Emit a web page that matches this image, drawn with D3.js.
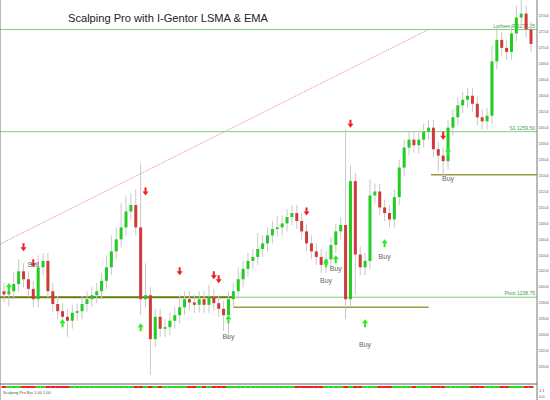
<!DOCTYPE html>
<html><head><meta charset="utf-8">
<script src="https://cdn.jsdelivr.net/npm/d3@7"></script>
<style>body{margin:0;background:#fff}</style>
</head><body><div id="chart"></div>
<script>
// closing prices, one per bar
const closes = [1239.1,1239.5,1240.4,1242,1241, 1239.8,1238.5,1242.5,1243.3,1239.5,
  1237.9,1237,1236.3,1235.8,1236.8, 1237,1237.9,1238.5,1239,1239.5,
  1240.8,1242.5,1244.5,1246,1247.5, 1249.5,1250.3,1247.5,1238.5,1239,
  1233.5,1236.3,1234.8,1235,1235.8, 1236.5,1237.5,1238.5,1238.1,1237.8,
  1238.5,1237.8,1238.8,1238,1237.3, 1236.5,1238.5,1239.5,1241,1242.3,
  1243.3,1243.8,1244.8,1245.5,1246.5, 1247.3,1247.5,1248,1248.8,1249.3,
  1248.3,1247,1245.5,1244.5,1243.8, 1242.8,1243.5,1245.3,1247,1247.8,
  1238.5,1253.3,1244.1,1242.5,1243.3, 1251.5,1252,1250,1249.3,1248.5,
  1251.3,1255,1257.5,1258.5,1257.8, 1258.5,1259.5,1260,1257.3,1256.5,
  1255.8,1260,1261.3,1262.8,1263.5, 1264,1263,1261.3,1260.8,1261.5,
  1268.3,1271,1270,1269.5,1271.8, 1273.8,1274.3,1272.3,1270.5];
const firstOpen = 1239.5;
// wick extensions beyond the body (price units)
const hiExt = [1,1,1.5,1.5,1, 1,1,1.5,1,1, 1,1,1,1,1, 1,1,1,1,1,
  1,1.5,2,1.5,3, 2,1.5,2,8,4, 1,1,1,1,1, 1,1.5,1,1,1,
  1,1,1.5,1,1, 1,1,1,1.5,1, 1,1,2,1,1, 1,1.5,1,1,1,
  1,1,1,1,1, 1,1,1,1,1, 12,2,1,1,1, 2,1,1,1,1,
  1,1,1,1,1, 1,1,1,1,1, 1,1,1,1,1, 1,1,1,1,1,
  2,1.5,1,1,1, 1.5,2,1,1];
const loExt = [1,1.5,1,1,1, 1,1,1,1,1, 1,1,1,2,1, 1,1,1,1,1,
  1,1,1,1,1, 1,1,1,2,1, 4.5,1,1,1,1, 1,1,1,1,1,
  1,1,1,1,1, 2,3,1,1,1, 1,1,1,1,1, 1,1,1,1,1,
  1,1,1,1,1, 1,1,1,1,1, 2.5,1,5,1,1, 1,1,1,1,1,
  1,1,1,1,1, 1,1,1,1,2, 2,1,1,1,1, 1,1,1,1,1,
  1,1,1,1,1, 1,1,1,1];
// signal arrows: bar index, price
const sellIdx = [4,6,29,36,43,44,62,71,90];
const sellPx = [1245.5,1243.5,1252.5,1242.5,1242,1241.5,1250,1261,1259.5];
const buyIdx = [1,12,28,46,66,68,74,78,91];
const buyPx = [1239.5,1235,1234.5,1235.5,1242.5,1243,1235,1245,1256.5];
const buyLabels = [[46,1233.5],[66,1240.5],[68,1242],[74,1232.5],[78,1243.5],[91,1253.3]];
const sellLabels = [[6,1242.5]];
const levels = [{p:1272.3,t:"Lorbeer R 1272.25"},{p:1259.5,t:"S1 1259.50"},{p:1238.75,t:"Pivot 1238.75"}];

const W = 550, H = 400, right = 537, plotBottom = 383;
const svg = d3.select("#chart").append("svg").attr("width", W).attr("height", H)
  .style("font-family", "'Liberation Sans',Arial,sans-serif");

const x = d3.scaleLinear().domain([0, 108]).range([4, 531]);
const y = d3.scaleLinear().domain([1228, 1276]).range([plotBottom, 0]);

const bars = closes.map((c, i) => {
  const o = i === 0 ? firstOpen : closes[i - 1];
  return {i, o, c, h: Math.max(o, c) + hiExt[i], l: Math.min(o, c) - loExt[i]};
});

// diagonal dotted trend line
svg.append("line").attr("x1", 0).attr("y1", y(1245.4)).attr("x2", x(87)).attr("y2", y(1272.3))
  .attr("stroke", "#f08080").attr("stroke-dasharray", "1,1");

// level lines
levels.forEach(d => {
  svg.append("line").attr("x1", 0).attr("x2", right).attr("y1", y(d.p)).attr("y2", y(d.p))
    .attr("stroke", "#7fcf7f").attr("stroke-width", 1);
  svg.append("text").attr("x", right - 2).attr("y", y(d.p) - 2).attr("text-anchor", "end")
    .attr("font-size", 5).attr("fill", "#4a9a4a").text(d.t);
});

// olive support lines
svg.append("line").attr("x1", 0).attr("x2", x(47)).attr("y1", y(1238.75)).attr("y2", y(1238.75))
  .attr("stroke", "#6b7d10").attr("stroke-width", 2);
svg.append("line").attr("x1", x(47)).attr("x2", x(87)).attr("y1", y(1237.5)).attr("y2", y(1237.5))
  .attr("stroke", "#9a9a40").attr("stroke-width", 1.5);
svg.append("line").attr("x1", x(87.5)).attr("x2", right).attr("y1", y(1254.1)).attr("y2", y(1254.1))
  .attr("stroke", "#9a9a40").attr("stroke-width", 1.5);

// candles
const g = svg.append("g");
g.selectAll(".wick").data(bars).enter().append("line")
  .attr("x1", d => x(d.i)).attr("x2", d => x(d.i))
  .attr("y1", d => y(d.h)).attr("y2", d => y(d.l))
  .attr("stroke", "#c8c8c8").attr("stroke-width", 1);
g.selectAll(".body").data(bars).enter().append("rect")
  .attr("x", d => x(d.i) - 1.5).attr("width", 3)
  .attr("y", d => y(Math.max(d.o, d.c)))
  .attr("height", d => Math.max(1, Math.abs(y(d.o) - y(d.c))))
  .attr("fill", d => d.c >= d.o ? "#22cc22" : "#d23a3a");

// arrows
function arrow(xp, yp, up, col) {
  const s = up ? 1 : -1;
  svg.append("path")
    .attr("d", `M${xp},${yp} l-3,${4 * s} h2 v${4 * s} h2 v${-4 * s} h2 z`)
    .attr("fill", col);
}
sellIdx.forEach((b, k) => arrow(x(b), y(sellPx[k]) + 8, false, "#ee2222"));
buyIdx.forEach((b, k) => arrow(x(b), y(buyPx[k]) - 8, true, "#22ee22"));
buyLabels.forEach(d => svg.append("text").attr("x", x(d[0])).attr("y", y(d[1]))
  .attr("text-anchor", "middle").attr("font-size", 7).attr("fill", "#666").text("Buy"));
sellLabels.forEach(d => svg.append("text").attr("x", x(d[0])).attr("y", y(d[1]))
  .attr("text-anchor", "middle").attr("font-size", 7).attr("fill", "#666").text("Sell"));

// title
svg.append("text").attr("x", 68).attr("y", 22).attr("font-size", 11).attr("fill", "#222")
  .attr("textLength", 200).attr("lengthAdjust", "spacingAndGlyphs")
  .text("Scalping Pro with I-Gentor LSMA & EMA");

// price axis
svg.append("line").attr("x1", right).attr("x2", right).attr("y1", 0).attr("y2", H).attr("stroke", "#777");
svg.append("line").attr("x1", 0).attr("x2", 0).attr("y1", 0).attr("y2", H).attr("stroke", "#777");
const ticks = d3.range(1230, 1276, 2);
svg.selectAll(".tk").data(ticks).enter().append("text")
  .attr("x", right + 1.5).attr("y", d => y(d) + 1.2).attr("font-size", 2.8).attr("fill", "#555")
  .text(d => d.toFixed(2));

// bottom indicator strip
svg.append("line").attr("x1", 0).attr("x2", right).attr("y1", 384).attr("y2", 384).attr("stroke", "#666");
svg.selectAll(".st").data(bars).enter().append("rect")
  .attr("x", d => x(d.i) - 2.45).attr("width", 4.9).attr("y", 386).attr("height", 2)
  .attr("fill", d => d.c >= d.o ? "#22dd22" : "#ee2222");
svg.append("text").attr("x", 3).attr("y", 394).attr("font-size", 4).attr("fill", "#555").text("Scalping Pro Bar 1.00 1.00");
svg.append("text").attr("x", right + 2).attr("y", 392).attr("font-size", 4).attr("fill", "#555").text("1.1");
svg.append("text").attr("x", right + 2).attr("y", 398).attr("font-size", 4).attr("fill", "#555").text("0.0");
</script></body></html>
